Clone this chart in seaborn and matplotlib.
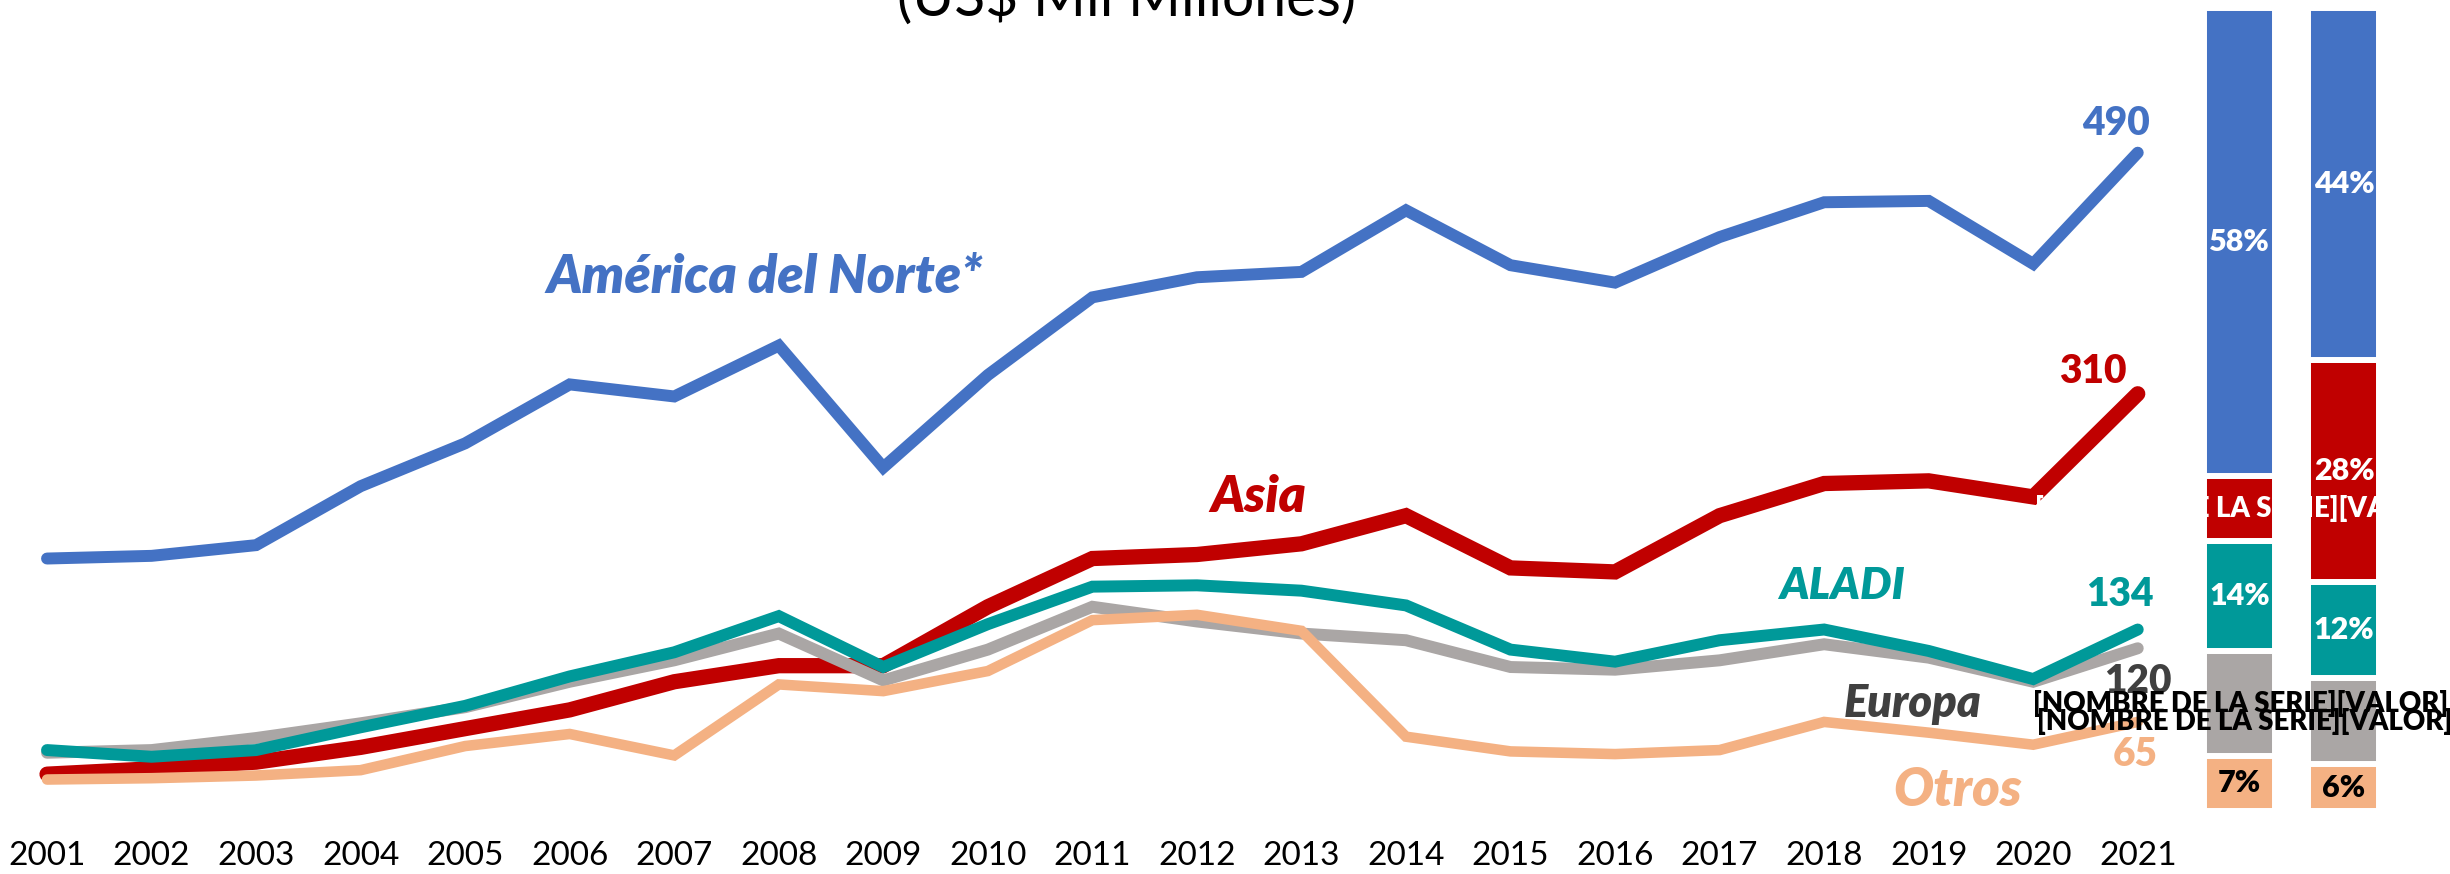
import matplotlib
matplotlib.use("Agg")
import matplotlib.pyplot as plt
import pandas as pd
import seaborn as sns

# Exportaciones por destino, US$ mil millones
YEARS = list(range(2001, 2022))
REGIONS = ["América del Norte*", "Asia", "ALADI", "Europa", "Otros"]

AMERICA_NORTE = [187, 189, 197, 241, 273, 317, 308, 346, 255, 324, 382,
                 397, 401, 447, 406, 393, 427, 453, 454, 407, 490]
ASIA = [26, 30, 35, 46, 60, 74, 95, 107, 107, 151, 187,
        190, 198, 219, 180, 177, 219, 243, 245, 233, 310]
ALADI = [44, 39, 44, 61, 77, 99, 117, 144, 106, 138, 166,
         167, 163, 152, 119, 110, 126, 134, 118, 97, 134]
EUROPA = [42, 44, 53, 64, 76, 95, 111, 131, 96, 119, 151,
          140, 131, 126, 106, 104, 111, 123, 113, 95, 120]
OTROS = [22, 23, 25, 29, 47, 56, 40, 93, 88, 103, 141,
         145, 133, 54, 43, 41, 44, 65, 57, 48, 65]

SHARE_YEARS = [2001, 2021]
PLACEHOLDER = "[NOMBRE DE LA SERIE][VALOR]"
TITLE = "(US$ Mil Millones)"

COLORS = {
    "América del Norte*": "#4472C4",
    "Asia": "#C00000",
    "ALADI": "#009999",
    "Europa": "#AAA6A5",
    "Otros": "#F4B183",
}
TEXT_COLORS = dict(COLORS, Europa="#404040")
LINE_WIDTHS = {"América del Norte*": 8.6, "Asia": 11, "ALADI": 8.6,
               "Europa": 8.6, "Otros": 7.6}

# Setup Plotting Style
sns.set_theme(style="white")
plt.rcParams["font.family"] = ["Lato", "DejaVu Sans"]


def build_frame():
    values = [AMERICA_NORTE, ASIA, ALADI, EUROPA, OTROS]
    rows = []
    for region, vals in zip(REGIONS, values):
        for year, v in zip(YEARS, vals):
            rows.append({"year": year, "region": region, "value": v})
    return pd.DataFrame(rows)


def plot_lines(fig, df):
    ax = fig.add_axes([0, 65 / 874, 2190 / 2450, 809 / 874])
    ax.set_facecolor("white")

    # drawing order matters for the overlaps
    for region in ["América del Norte*", "Asia", "Europa", "ALADI", "Otros"]:
        sub = df[df["region"] == region]
        sns.lineplot(data=sub, x="year", y="value", color=COLORS[region],
                     linewidth=LINE_WIDTHS[region], ax=ax,
                     solid_capstyle="round", solid_joinstyle="miter",
                     clip_on=False)

    ax.set_xlim(2000.55, 2021.50)
    ax.set_ylim(0, 604)
    ax.set_xticks(YEARS)
    ax.set_xticklabels([str(y) for y in YEARS])
    ax.set_yticks([])
    ax.tick_params(axis="x", length=0, pad=23, labelsize=24, labelcolor="black")
    ax.set_xlabel("")
    ax.set_ylabel("")
    for s in ax.spines.values():
        s.set_visible(False)

    # series names
    name_pos = {
        "América del Norte*": (2007.87, 385, 38.5),
        "Asia": (2012.59, 222, 37),
        "ALADI": (2018.17, 157, 32),
        "Europa": (2018.85, 69, 32.5),
        "Otros": (2019.28, 2, 38),
    }
    for region, (x, y, size) in name_pos.items():
        ax.text(x, y, region, ha="center", va="baseline", fontsize=size,
                fontweight="heavy", fontstyle="italic",
                color=TEXT_COLORS[region])

    # end values
    offsets = {
        "América del Norte*": (-16, 12.5),
        "Asia": (-32, 7.6),
        "ALADI": (-13, 17),
        "Europa": (0, -32),
        "Otros": (-2, -31.7),
    }
    last = df[df["year"] == YEARS[-1]].set_index("region")["value"]
    for region, (dx, dy) in offsets.items():
        ax.annotate(f"{last[region]:.0f}", xy=(YEARS[-1], last[region]),
                    xytext=(dx, dy), textcoords="offset points",
                    ha="center", va="baseline", fontsize=28,
                    fontweight="heavy", color=TEXT_COLORS[region])
    return ax


def plot_shares(fig, df):
    bax = fig.add_axes([2150 / 2450, 63 / 874, 300 / 2450, 803 / 874])
    bax.set_xlim(-0.856, 2.015)
    bax.set_ylim(0, 100)
    bax.axis("off")

    # broken data labels as they appear in the original
    placeholders = {
        (0, "Asia"): ("white", -1.957),
        (0, "Europa"): ("black", -1.976),
        (1, "Europa"): ("black", -2.938),
    }

    stack = ["Otros", "Europa", "ALADI", "Asia", "América del Norte*"]
    for i, year in enumerate(SHARE_YEARS):
        vals = df[df["year"] == year].set_index("region")["value"]
        shares = vals / vals.sum() * 100
        bottom = 0
        for region in stack:
            h = shares[region]
            bax.bar(i, h, bottom=bottom, width=0.68, color=COLORS[region],
                    edgecolor="white", linewidth=4.3)
            mid = bottom + h / 2
            if (i, region) in placeholders:
                col, x = placeholders[(i, region)]
                bax.text(i + x, mid, PLACEHOLDER, ha="left", va="center",
                         fontsize=19.8, fontweight="heavy", color=col,
                         clip_on=False, zorder=10)
            else:
                col = "black" if region == "Otros" else "white"
                bax.text(i, mid, f"{h:.0f}%", ha="center", va="center",
                         fontsize=22, fontweight="heavy", color=col, zorder=5)
            bottom += h
    return bax


def main():
    df = build_frame()
    fig = plt.figure(figsize=(24.5, 8.74), dpi=100)
    fig.patch.set_facecolor("white")
    plot_lines(fig, df)
    plot_shares(fig, df)
    fig.text(1127 / 2450, 858 / 874, TITLE, ha="center", va="baseline",
             fontsize=41, color="black")
    fig.savefig("out.png", dpi=100, facecolor="white")
    plt.close(fig)


if __name__ == "__main__":
    main()
